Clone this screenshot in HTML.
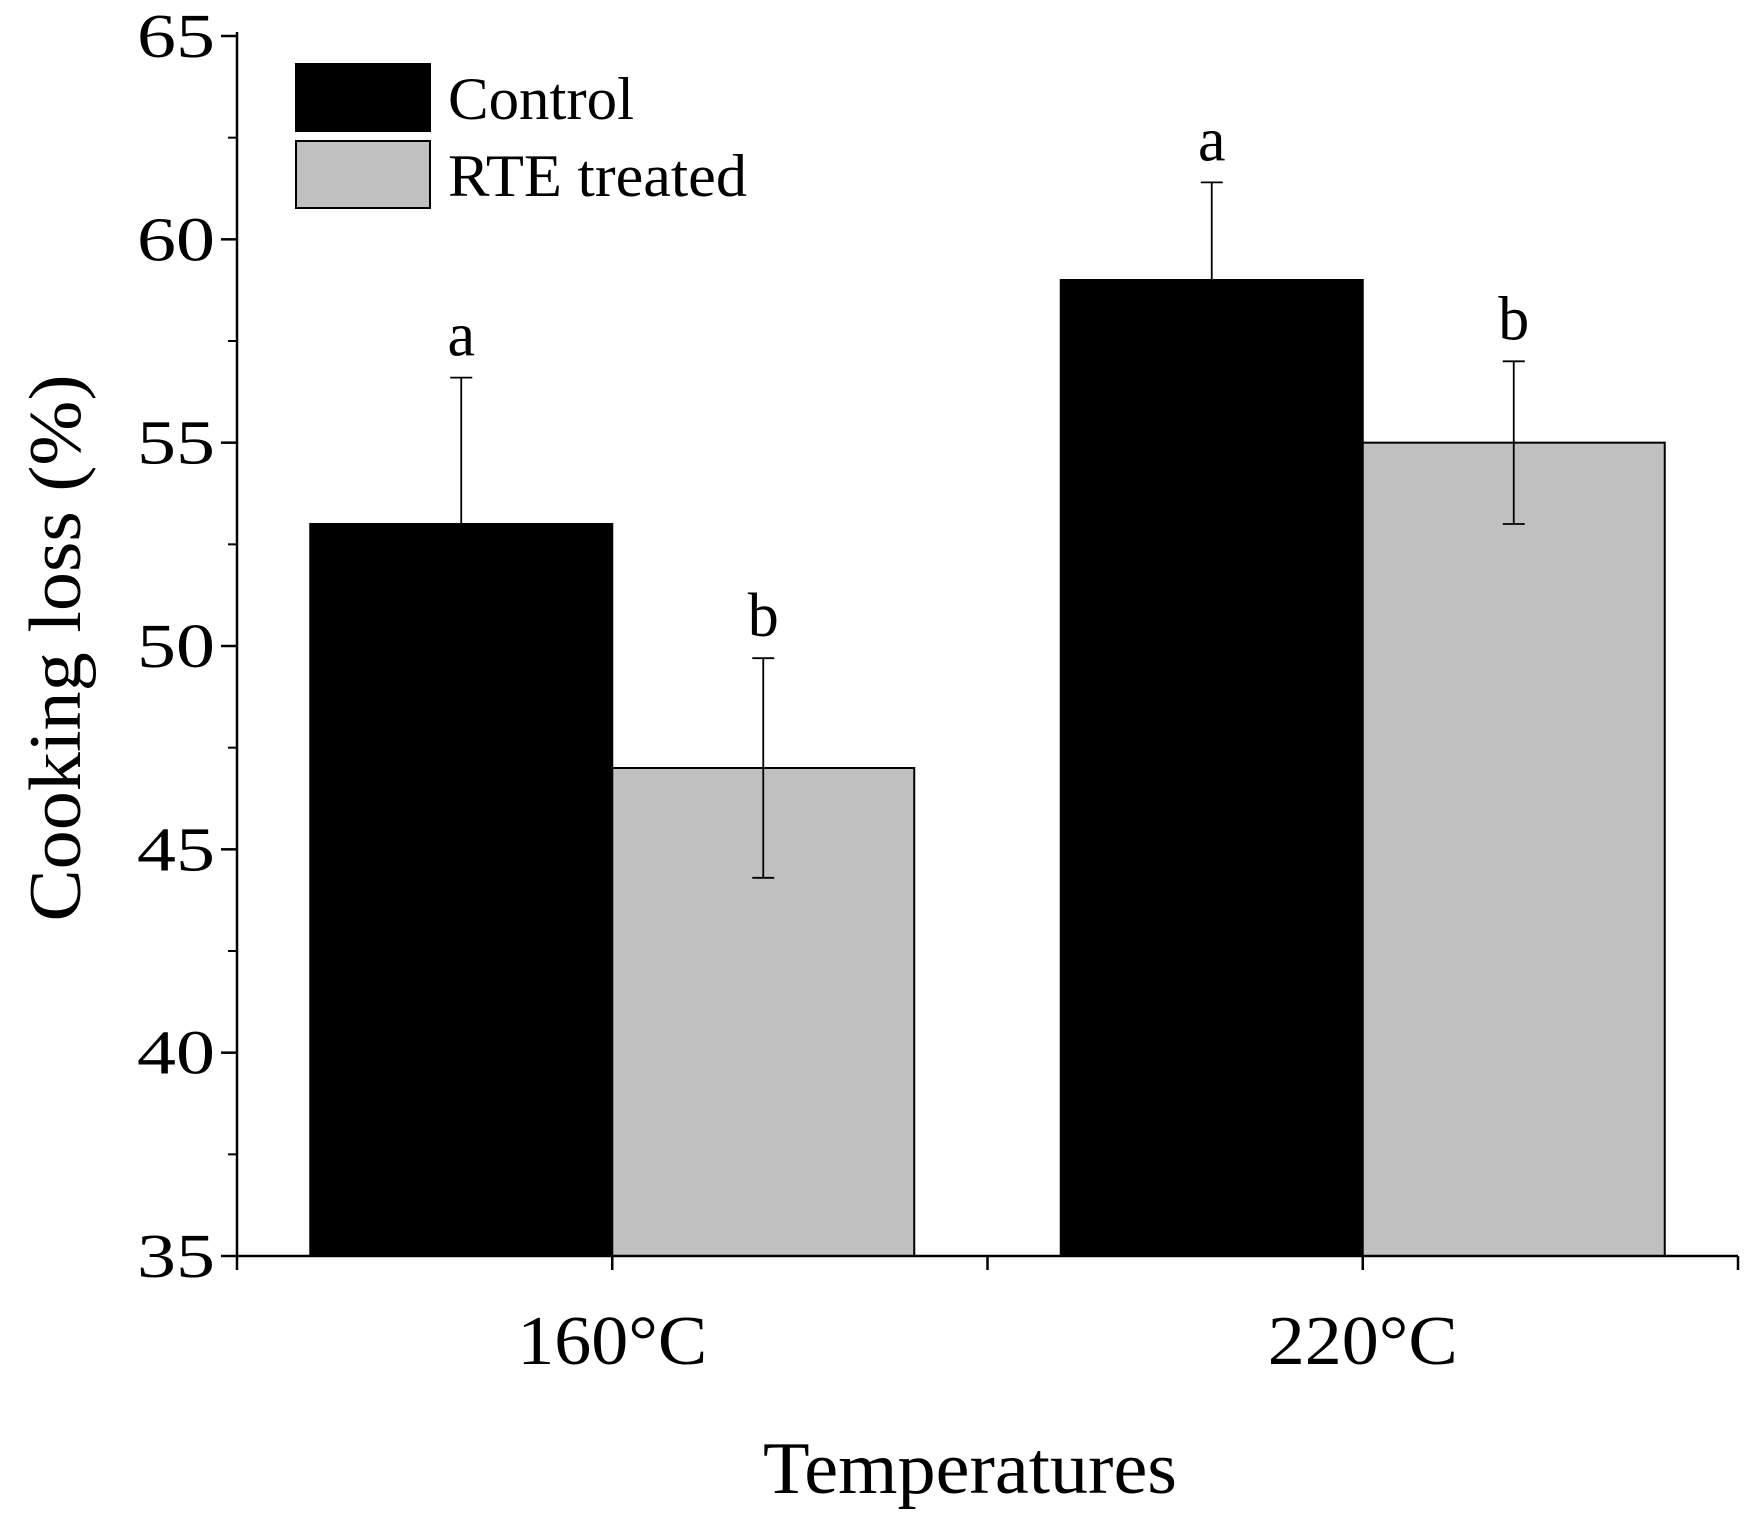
<!DOCTYPE html>
<html><head><meta charset="utf-8"><style>
html,body{margin:0;padding:0;background:#fff;}
svg{display:block;font-family:"Liberation Serif",serif;}
</style></head><body>
<svg id="chart" width="1756" height="1527" viewBox="0 0 1756 1527">
<g id="plot"></g>
</svg>
<script>
const categories = ["160°C", "220°C"];
const seriesNames = ["Control", "RTE treated"];
const controlValues = [53, 59];
const rteValues = [47, 55];
const controlErrors = [3.6, 2.4];
const rteErrors = [2.7, 2.0];
const controlLetters = ["a", "a"];
const rteLetters = ["b", "b"];
const yTicks = [35, 40, 45, 50, 55, 60, 65];

const NS = "http://www.w3.org/2000/svg";
const g = document.getElementById("plot");
const X0 = 237, X1 = 1738, Y0 = 1256, Y1 = 36;
const yMin = 35, yMax = 65;
function yScale(v){ return Y0 - (v - yMin) / (yMax - yMin) * (Y0 - Y1); }
const groupW = (X1 - X0) / categories.length;
function groupCenter(i){ return X0 + groupW * (i + 0.5); }
const barW = 302;
function mk(tag, attrs, parent){ const e = document.createElementNS(NS, tag); for (const k in attrs) e.setAttribute(k, attrs[k]); (parent||g).appendChild(e); return e; }

const seriesVals = [controlValues, rteValues];
const seriesErr = [controlErrors, rteErrors];
const seriesLet = [controlLetters, rteLetters];
const fills = ["#000000", "#c0c0c0"];
categories.forEach((c, i) => {
  const cx = groupCenter(i);
  seriesVals.forEach((vals, s) => {
    const x = s === 0 ? cx - barW : cx;
    const y = yScale(vals[i]);
    const r = mk("rect", {x: x, y: y, width: barW, height: Y0 - y, fill: fills[s], stroke: "#000", "stroke-width": 2});
    
    
    const mx = x + barW / 2;
    const yt = yScale(vals[i] + seriesErr[s][i]);
    const yb = yScale(vals[i] - seriesErr[s][i]);
    const eb = mk("path", {d: `M${mx},${yt}V${yb}M${mx-11},${yt}H${mx+11}M${mx-11},${yb}H${mx+11}`, stroke: "#000", "stroke-width": 1.8, fill: "none"});
    
    
    const t = mk("text", {x: mx, y: yt - 22, "text-anchor": "middle", "font-size": 62});
    t.textContent = seriesLet[s][i];
    
    
  });
  const tl = mk("text", {x: cx, y: 1364, "text-anchor": "middle", "font-size": 70, textLength: 190, lengthAdjust: "spacingAndGlyphs"});
  tl.textContent = c;
  
  
});

const ax = mk("path", {d: `M${X0},${Y1-4}V${Y0}H${X1}`, stroke: "#000", "stroke-width": 2.5, fill: "none"});


for (let k = 0; k <= categories.length * 2; k++) {
  const x = X0 + k * groupW / 2;
  const tk = mk("line", {x1: x, x2: x, y1: Y0, y2: Y0 + 14, stroke: "#000", "stroke-width": 2.5});
  
  
}
yTicks.forEach((v, i) => {
  const y = yScale(v);
  const tk = mk("line", {x1: X0 - 16, x2: X0, y1: y, y2: y, stroke: "#000", "stroke-width": 2.5});
  
  
  const t = mk("text", {x: X0 - 22, y: y + 21, "text-anchor": "end", "font-size": 62, textLength: 78, lengthAdjust: "spacingAndGlyphs"});
  t.textContent = v;
  
  
  if (i < yTicks.length - 1) {
    const ym = yScale(v + 2.5);
    const mt = mk("line", {x1: X0 - 9, x2: X0, y1: ym, y2: ym, stroke: "#000", "stroke-width": 2});
    
    
  }
});
const yt = mk("text", {x: 0, y: 0, "text-anchor": "middle", "font-size": 74, textLength: 547, lengthAdjust: "spacingAndGlyphs", transform: "translate(80,648) rotate(-90)"});
yt.textContent = "Cooking loss (%)";


const xt = mk("text", {x: 970, y: 1493, "text-anchor": "middle", "font-size": 74, textLength: 414, lengthAdjust: "spacingAndGlyphs"});
xt.textContent = "Temperatures";


const legendWidths = [186, 299];
seriesNames.forEach((n, s) => {
  const y = 64 + s * 77;
  const r = mk("rect", {x: 296, y: y, width: 134, height: 67, fill: fills[s], stroke: "#000", "stroke-width": 2});
  
  
  const t = mk("text", {x: 448, y: y + 55, "font-size": 60, textLength: legendWidths[s], lengthAdjust: "spacingAndGlyphs"});
  t.textContent = n;
  
  
});
</script>
</body></html>
